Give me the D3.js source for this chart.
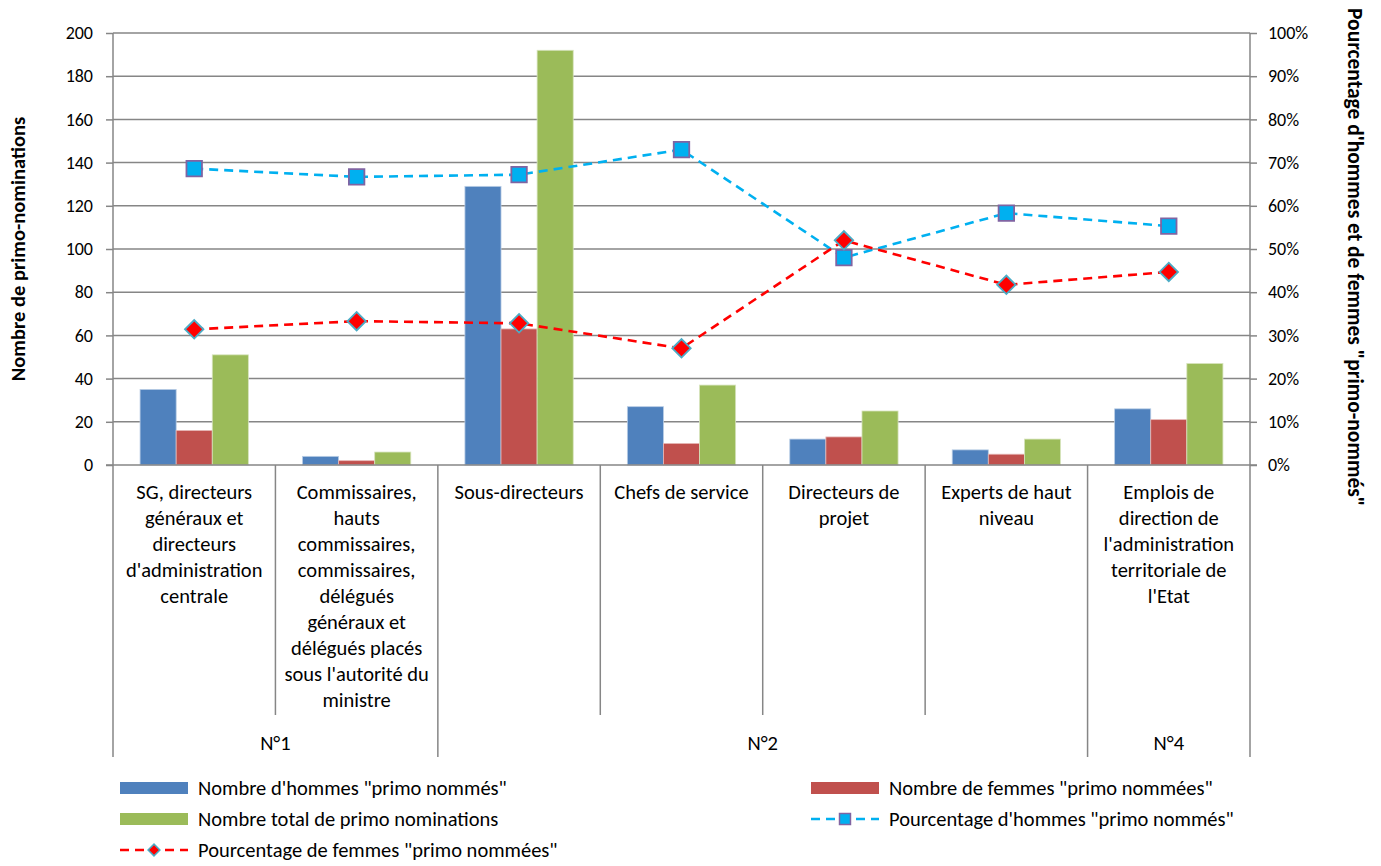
<!DOCTYPE html>
<html>
<head>
<meta charset="utf-8">
<script src="https://cdn.jsdelivr.net/npm/d3@7"></script>
<style>
	body { margin: 0; background: #fff; }
	svg text { font-family: Carlito, Calibri, Lato, sans-serif; fill: #000; }
</style>
</head>
<body>
<div id="chart"></div>
<script>
// categories (pre-broken into lines as in the original labels)
const categories = [
	['SG, directeurs', 'généraux et', 'directeurs', "d'administration", 'centrale'],
	['Commissaires,', 'hauts', 'commissaires,', 'commissaires,', 'délégués', 'généraux et', 'délégués placés', "sous l'autorité du", 'ministre'],
	['Sous-directeurs'],
	['Chefs de service'],
	['Directeurs de', 'projet'],
	['Experts de haut', 'niveau'],
	['Emplois de', 'direction de', "l'administration", 'territoriale de', "l'Etat"]
];
const groups = [
	{ name: 'N°1', from: 0, to: 1 },
	{ name: 'N°2', from: 2, to: 5 },
	{ name: 'N°4', from: 6, to: 6 }
];
const hommes = [35, 4, 129, 27, 12, 7, 26];
const femmes = [16, 2, 63, 10, 13, 5, 21];
const total = [51, 6, 192, 37, 25, 12, 47];
const pctHommes = [68.6, 66.7, 67.2, 73.0, 48.0, 58.3, 55.3];
const pctFemmes = [31.4, 33.3, 32.8, 27.0, 52.0, 41.7, 44.7];
const countTicks = [0, 20, 40, 60, 80, 100, 120, 140, 160, 180, 200];
const pctTicks = [0, 10, 20, 30, 40, 50, 60, 70, 80, 90, 100];

const barSeries = [
	{ key: 'h', label: 'Nombre d\'hommes "primo nommés"', values: hommes, color: '#4F81BD', edge: '#B9CDE5' },
	{ key: 'f', label: 'Nombre de femmes "primo nommées"', values: femmes, color: '#C0504D', edge: '#E6B9B8' },
	{ key: 't', label: 'Nombre total de primo nominations', values: total, color: '#9BBB59', edge: '#D7E4BD' }
];

const width = 1381, height = 866,
	plotL = 113, plotR = 1250, plotT = 33, plotB = 465,
	fontSize = 20.5, tickFont = 18, lineH = 26;

const svg = d3.select('#chart').append('svg')
	.attr('width', width)
	.attr('height', height);

const x = d3.scaleBand()
	.domain(d3.range(categories.length))
	.range([plotL, plotR]);

const xInner = d3.scaleBand()
	.domain(barSeries.map(s => s.key))
	.range([0, x.bandwidth()])
	.paddingOuter(0.75);

const y = d3.scaleLinear().domain([0, 200]).range([plotB, plotT]);
const yPct = d3.scaleLinear().domain([0, 100]).range([plotB, plotT]);

// gridlines
svg.append('g')
	.selectAll('line')
	.data(countTicks.slice(1))
	.join('line')
	.attr('x1', plotL).attr('x2', plotR)
	.attr('y1', d => y(d)).attr('y2', d => y(d))
	.attr('stroke', '#868686')
	.attr('stroke-width', 1.5);

// left axis
const yAxis = svg.append('g')
	.attr('transform', `translate(${plotL},0)`)
	.call(d3.axisLeft(y).tickValues(countTicks).tickSize(7).tickPadding(13));
// right axis
const yAxisR = svg.append('g')
	.attr('transform', `translate(${plotR},0)`)
	.call(d3.axisRight(yPct).tickValues(pctTicks).tickSize(7).tickPadding(11).tickFormat(d => d + '%'));

[yAxis, yAxisR].forEach(ax => {
	ax.select('.domain').remove();
	ax.selectAll('line').attr('stroke', '#868686').attr('stroke-width', 1.5);
	ax.selectAll('text')
		.style('font-family', 'Carlito, Calibri, Lato, sans-serif')
		.style('font-size', tickFont + 'px')
		.attr('fill', '#000');
});

// bars
const cat = svg.append('g')
	.selectAll('g')
	.data(categories)
	.join('g')
	.attr('transform', (d, i) => `translate(${x(i)},0)`);

cat.selectAll('rect')
	.data((d, i) => barSeries.map(s => ({ s: s, v: s.values[i] })))
	.join('rect')
	.attr('x', d => xInner(d.s.key))
	.attr('y', d => y(d.v))
	.attr('width', xInner.bandwidth())
	.attr('height', d => y(0) - y(d.v))
	.attr('fill', d => d.s.color)
	.attr('stroke', d => d.s.edge)
	.attr('stroke-width', 0.8);

// axis lines (drawn after bars)
svg.append('line')
	.attr('x1', plotL).attr('x2', plotL)
	.attr('y1', plotT).attr('y2', plotB)
	.attr('stroke', '#868686').attr('stroke-width', 1.5);
svg.append('line')
	.attr('x1', plotR).attr('x2', plotR)
	.attr('y1', plotT).attr('y2', plotB)
	.attr('stroke', '#868686').attr('stroke-width', 1.5);
svg.append('line')
	.attr('x1', plotL - 7).attr('x2', plotR + 7)
	.attr('y1', plotB).attr('y2', plotB)
	.attr('stroke', '#868686').attr('stroke-width', 1.5);

// lines
const line = d3.line()
	.x((d, i) => x(i) + x.bandwidth() / 2)
	.y(d => yPct(d));

svg.append('path')
	.datum(pctHommes)
	.attr('d', line)
	.attr('fill', 'none')
	.attr('stroke', '#00B0F0')
	.attr('stroke-width', 2.6)
	.attr('stroke-dasharray', '9,6');

svg.append('path')
	.datum(pctFemmes)
	.attr('d', line)
	.attr('fill', 'none')
	.attr('stroke', '#FF0000')
	.attr('stroke-width', 2.6)
	.attr('stroke-dasharray', '9,6');

const squareSym = d3.symbol().type(d3.symbolSquare).size(240);
const diamondSym = d3.symbol().type(d3.symbolSquare).size(170);

svg.append('g')
	.selectAll('path')
	.data(pctHommes)
	.join('path')
	.attr('d', squareSym)
	.attr('transform', (d, i) => `translate(${x(i) + x.bandwidth() / 2},${yPct(d)})`)
	.attr('fill', '#00B0F0')
	.attr('stroke', '#8064A2')
	.attr('stroke-width', 1.8);

svg.append('g')
	.selectAll('path')
	.data(pctFemmes)
	.join('path')
	.attr('d', diamondSym)
	.attr('transform', (d, i) => `translate(${x(i) + x.bandwidth() / 2},${yPct(d)}) rotate(45)`)
	.attr('fill', '#FF0000')
	.attr('stroke', '#4BACC6')
	.attr('stroke-width', 1.8);

// category labels + separators
const sepCat = 715, sepGroup = 757;
const groupEdges = new Set(groups.map(g => g.from));
d3.range(1, categories.length).forEach(i => {
	svg.append('line')
		.attr('x1', x(i)).attr('x2', x(i))
		.attr('y1', plotB).attr('y2', groupEdges.has(i) ? sepGroup : sepCat)
		.attr('stroke', '#868686').attr('stroke-width', 1.5);
});
[plotL, plotR].forEach(px => {
	svg.append('line')
		.attr('x1', px).attr('x2', px)
		.attr('y1', plotB).attr('y2', sepGroup)
		.attr('stroke', '#868686').attr('stroke-width', 1.5);
});

cat.append('text')
	.attr('text-anchor', 'middle')
	.style('font-size', fontSize + 'px')
	.selectAll('tspan')
	.data(d => d)
	.join('tspan')
	.attr('x', x.bandwidth() / 2)
	.attr('y', (d, i) => 499 + i * lineH)
	.text(d => d);

svg.append('g')
	.selectAll('text')
	.data(groups)
	.join('text')
	.attr('x', d => (x(d.from) + x(d.to) + x.bandwidth()) / 2)
	.attr('y', 750)
	.attr('text-anchor', 'middle')
	.style('font-size', fontSize + 'px')
	.text(d => d.name);

// axis titles
svg.append('text')
	.attr('transform', `translate(25,${(plotT + plotB) / 2}) rotate(-90)`)
	.attr('text-anchor', 'middle')
	.style('font-size', fontSize + 'px')
	.style('font-weight', 'bold')
	.text('Nombre de primo-nominations');

svg.append('text')
	.attr('transform', `translate(1348,8) rotate(90)`)
	.attr('text-anchor', 'start')
	.style('font-size', '21.5px')
	.style('font-weight', 'bold')
	.text('Pourcentage d\'hommes et de femmes "primo-nommés"');

// legend
const legendItems = [
	{ type: 'bar', s: barSeries[0], x: 120, y: 788 },
	{ type: 'bar', s: barSeries[1], x: 811, y: 788 },
	{ type: 'bar', s: barSeries[2], x: 120, y: 819 },
	{ type: 'line', label: 'Pourcentage d\'hommes "primo nommés"', color: '#00B0F0', marker: 'square', x: 811, y: 819 },
	{ type: 'line', label: 'Pourcentage de femmes "primo nommées"', color: '#FF0000', marker: 'diamond', x: 120, y: 850 }
];

const leg = svg.append('g')
	.selectAll('g')
	.data(legendItems)
	.join('g')
	.attr('transform', d => `translate(${d.x},${d.y})`);

leg.filter(d => d.type === 'bar')
	.append('rect')
	.attr('x', 0).attr('y', -6)
	.attr('width', 68).attr('height', 12)
	.attr('fill', d => d.s.color);

const lineLeg = leg.filter(d => d.type === 'line');
lineLeg.append('line')
	.attr('x1', 0).attr('x2', 68)
	.attr('y1', 0).attr('y2', 0)
	.attr('stroke', d => d.color)
	.attr('stroke-width', 2.6)
	.attr('stroke-dasharray', '9,6');
lineLeg.append('path')
	.attr('d', d => d.marker === 'square' ? d3.symbol().type(d3.symbolSquare).size(120)() : d3.symbol().type(d3.symbolSquare).size(70)())
	.attr('transform', d => d.marker === 'square' ? 'translate(34,0)' : 'translate(34,0) rotate(45)')
	.attr('fill', d => d.color)
	.attr('stroke', d => d.marker === 'square' ? '#8064A2' : '#4BACC6')
	.attr('stroke-width', 1.5);

leg.append('text')
	.attr('x', 78)
	.attr('dy', '0.35em')
	.style('font-size', fontSize + 'px')
	.text(d => d.type === 'bar' ? d.s.label : d.label);
</script>
</body>
</html>
